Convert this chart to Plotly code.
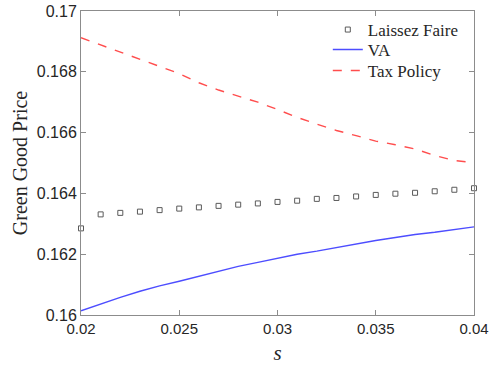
import plotly.graph_objects as go

s_vals = [0.020, 0.021, 0.022, 0.023, 0.024, 0.025, 0.026, 0.027, 0.028, 0.029, 0.030,
          0.031, 0.032, 0.033, 0.034, 0.035, 0.036, 0.037, 0.038, 0.039, 0.040]

laissez_faire = [0.16285, 0.16331, 0.16336, 0.16340, 0.16345, 0.16350, 0.16354, 0.16359,
                 0.16363, 0.16367, 0.16372, 0.16376, 0.16382, 0.16385, 0.16390, 0.16395,
                 0.16399, 0.16402, 0.16407, 0.16412, 0.16417]

va = [0.16014, 0.16037, 0.16058, 0.16078, 0.16096, 0.16111, 0.16127, 0.16145, 0.16160,
      0.16173, 0.16186, 0.16200, 0.16210, 0.16222, 0.16233, 0.16245, 0.16255, 0.16265,
      0.16272, 0.16281, 0.16290]

tax_policy = [0.16912, 0.16888, 0.16865, 0.16841, 0.16817, 0.16794, 0.16764, 0.16740,
              0.16720, 0.16700, 0.16676, 0.16650, 0.16628, 0.16607, 0.16590, 0.16572,
              0.16560, 0.16546, 0.16525, 0.16508, 0.16501]

x_tickvals = [0.02, 0.025, 0.03, 0.035, 0.04]
x_ticktext = ["0.02", "0.025", "0.03", "0.035", "0.04"]
y_tickvals = [0.16, 0.162, 0.164, 0.166, 0.168, 0.17]
y_ticktext = ["0.16", "0.162", "0.164", "0.166", "0.168", "0.17"]

SERIF = "'Liberation Serif', 'Times New Roman', Times, serif"
SANS = "Liberation Sans"

fig = go.Figure()
fig.add_trace(go.Scatter(
    x=s_vals, y=laissez_faire, mode="markers", name="Laissez Faire",
    marker=dict(symbol="square-open", size=5, color="#5a5a5a", line=dict(width=1)),
    cliponaxis=False, legend="legend",
))
fig.add_trace(go.Scatter(
    x=s_vals, y=va, mode="lines", name="VA",
    line=dict(color="#4d4dff", width=1.4), legend="legend2",
))
fig.add_trace(go.Scatter(
    x=s_vals, y=tax_policy, mode="lines", name="Tax Policy",
    line=dict(color="#ff4d4d", width=1.4, dash="dash"), legend="legend3",
))

axis_common = dict(
    showline=True, linecolor="#8c8c8c", linewidth=1, mirror="ticks",
    ticks="inside", ticklen=5, tickcolor="#8c8c8c", showgrid=False, zeroline=False,
    automargin=False,
)

fig.update_xaxes(
    range=[0.02, 0.04], tickvals=x_tickvals, ticktext=x_ticktext,
    tickfont=dict(family=SANS, size=15, color="#262626"),
    title=dict(text="<i>s</i>", font=dict(family=SERIF, size=21, color="#262626"),
               standoff=9),
    **axis_common,
)
fig.update_yaxes(
    range=[0.16, 0.17], tickvals=y_tickvals, ticktext=y_ticktext,
    tickfont=dict(family=SANS, size=16, color="#262626"),
    title=dict(text="Green Good Price", font=dict(family=SERIF, size=20, color="#262626"),
               standoff=3),
    **axis_common,
)

legend_common = dict(
    xanchor="left", yanchor="middle", x=0.628,
    bgcolor="rgba(255,255,255,0)", borderwidth=0,
    font=dict(family=SERIF, size=17, color="#262626"),
    itemwidth=30,
)

fig.update_layout(
    width=491, height=366,
    margin=dict(l=81, r=17, t=11, b=51),
    paper_bgcolor="white", plot_bgcolor="white",
    legend=dict(y=0.9375, **legend_common),
    legend2=dict(y=0.872, **legend_common),
    legend3=dict(y=0.803, **legend_common),
    showlegend=True,
)

fig.write_html("out.html", config={"displayModeBar": False},
               post_script="document.body.style.margin='0';")
